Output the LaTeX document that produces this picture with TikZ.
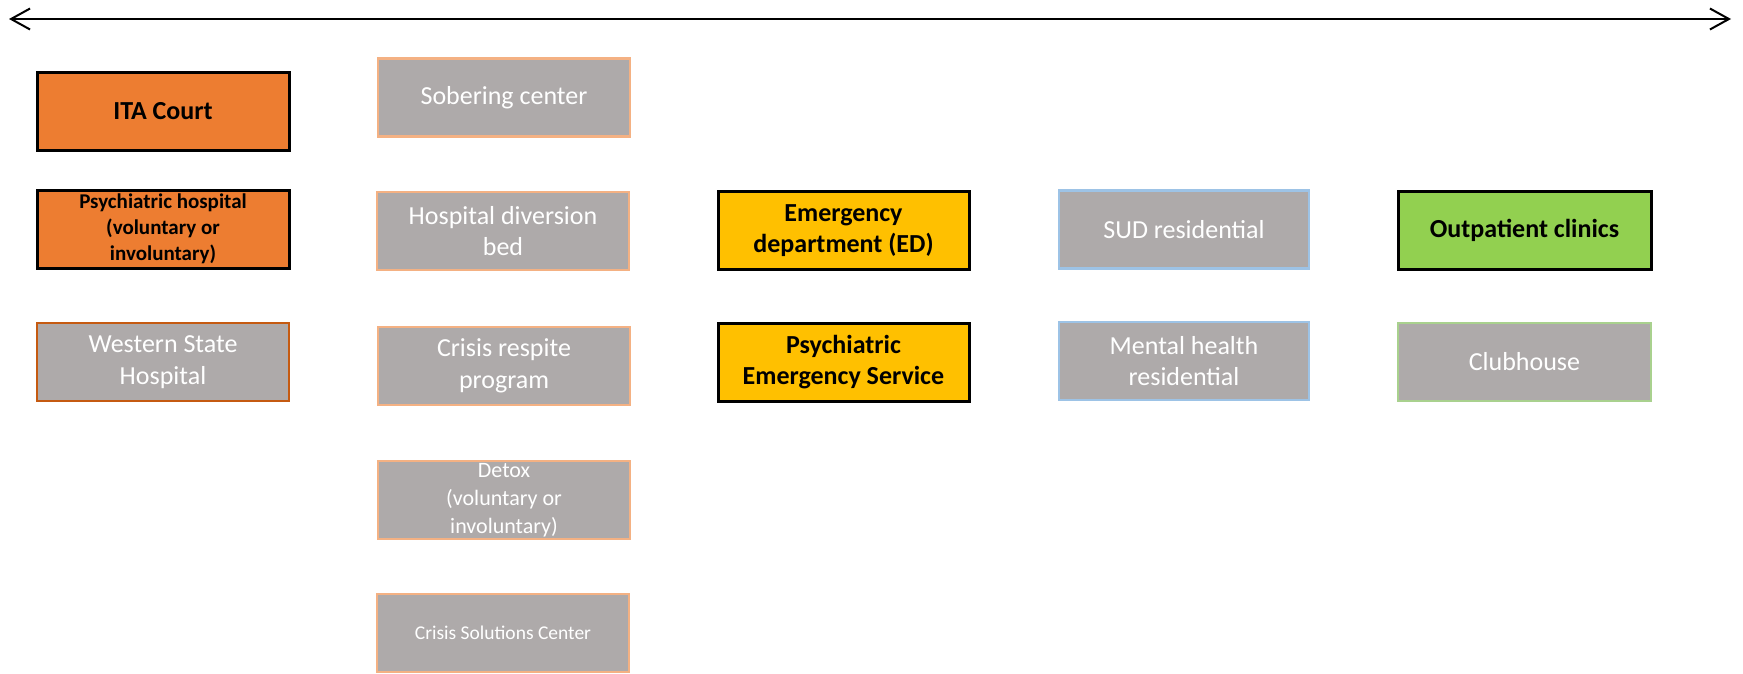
\documentclass[tikz,border=0pt]{standalone}
\usepackage{fontspec}
\setmainfont{Carlito}
\usetikzlibrary{arrows.meta}
\definecolor{orgfill}{HTML}{ED7D31}
\definecolor{grayfill}{HTML}{AEAAAA}
\definecolor{goldfill}{HTML}{FFC000}
\definecolor{greenfill}{HTML}{92D050}
\definecolor{lorange}{HTML}{F4B183}
\definecolor{dorange}{HTML}{C55A11}
\definecolor{lblue}{HTML}{9DC3E6}
\definecolor{lgreen}{HTML}{A9D18E}
\tikzset{
  base/.style={rectangle, align=center, inner sep=0pt, minimum height=78pt, minimum width=252pt},
  hot/.style={base, draw=black, line width=3pt, text=black, font=\fontsize{26}{31.7}\selectfont\bfseries},
  grey/.style={base, fill=grayfill, line width=2.5pt, text=white, font=\fontsize{26}{31.7}\selectfont},
}
\begin{document}
\begin{tikzpicture}[x=1pt,y=-1pt]
\useasboundingbox (0,0) rectangle (1743,673);
\coordinate (l) at (9,19);
\coordinate (r) at (1731,19);
\draw[line width=2pt, {Straight Barb[length=19pt,width=21pt,line width=2pt]}-{Straight Barb[length=19pt,width=21pt,line width=2pt]}] (l) -- (r);

\node[hot, fill=orgfill] (ita) at (163,111) {ITA Court};
\node[hot, fill=orgfill, font=\fontsize{21}{26}\selectfont\bfseries] (psy) at (163,229) {Psychiatric hospital\\(voluntary or\\involuntary)};
\node[grey, draw=dorange] (wsh) at (163,362) {Western State\\Hospital};

\node[grey, draw=lorange] (sob) at (504,97.5) {Sobering center};
\node[grey, draw=lorange] (hdb) at (503,231) {Hospital diversion\\bed};
\node[grey, draw=lorange] (crp) at (504,366) {Crisis respite\\program};
\node[grey, draw=lorange, font=\fontsize{22}{28}\selectfont] (det) at (504,500) {Detox\\(voluntary or\\involuntary)};
\node[grey, draw=lorange, font=\fontsize{19.5}{24}\selectfont] (csc) at (503,633) {Crisis Solutions Center};

\node[hot, minimum width=251pt, fill=goldfill] (ed) at (843.5,230.5) {Emergency\\department (ED)};
\node[hot, minimum width=251pt, fill=goldfill] (pes) at (843.5,362) {Psychiatric\\Emergency Service};

\node[grey, minimum width=250pt, draw=lblue] (sud) at (1184,229.5) {SUD residential};
\node[grey, minimum width=250pt, draw=lblue] (mhr) at (1184,361) {Mental health\\residential};

\node[hot, minimum width=253pt, fill=greenfill] (out) at (1524.5,230.5) {Outpatient clinics};
\node[grey, minimum width=253pt, draw=lgreen] (club) at (1524.5,362) {Clubhouse};
\end{tikzpicture}
\end{document}
